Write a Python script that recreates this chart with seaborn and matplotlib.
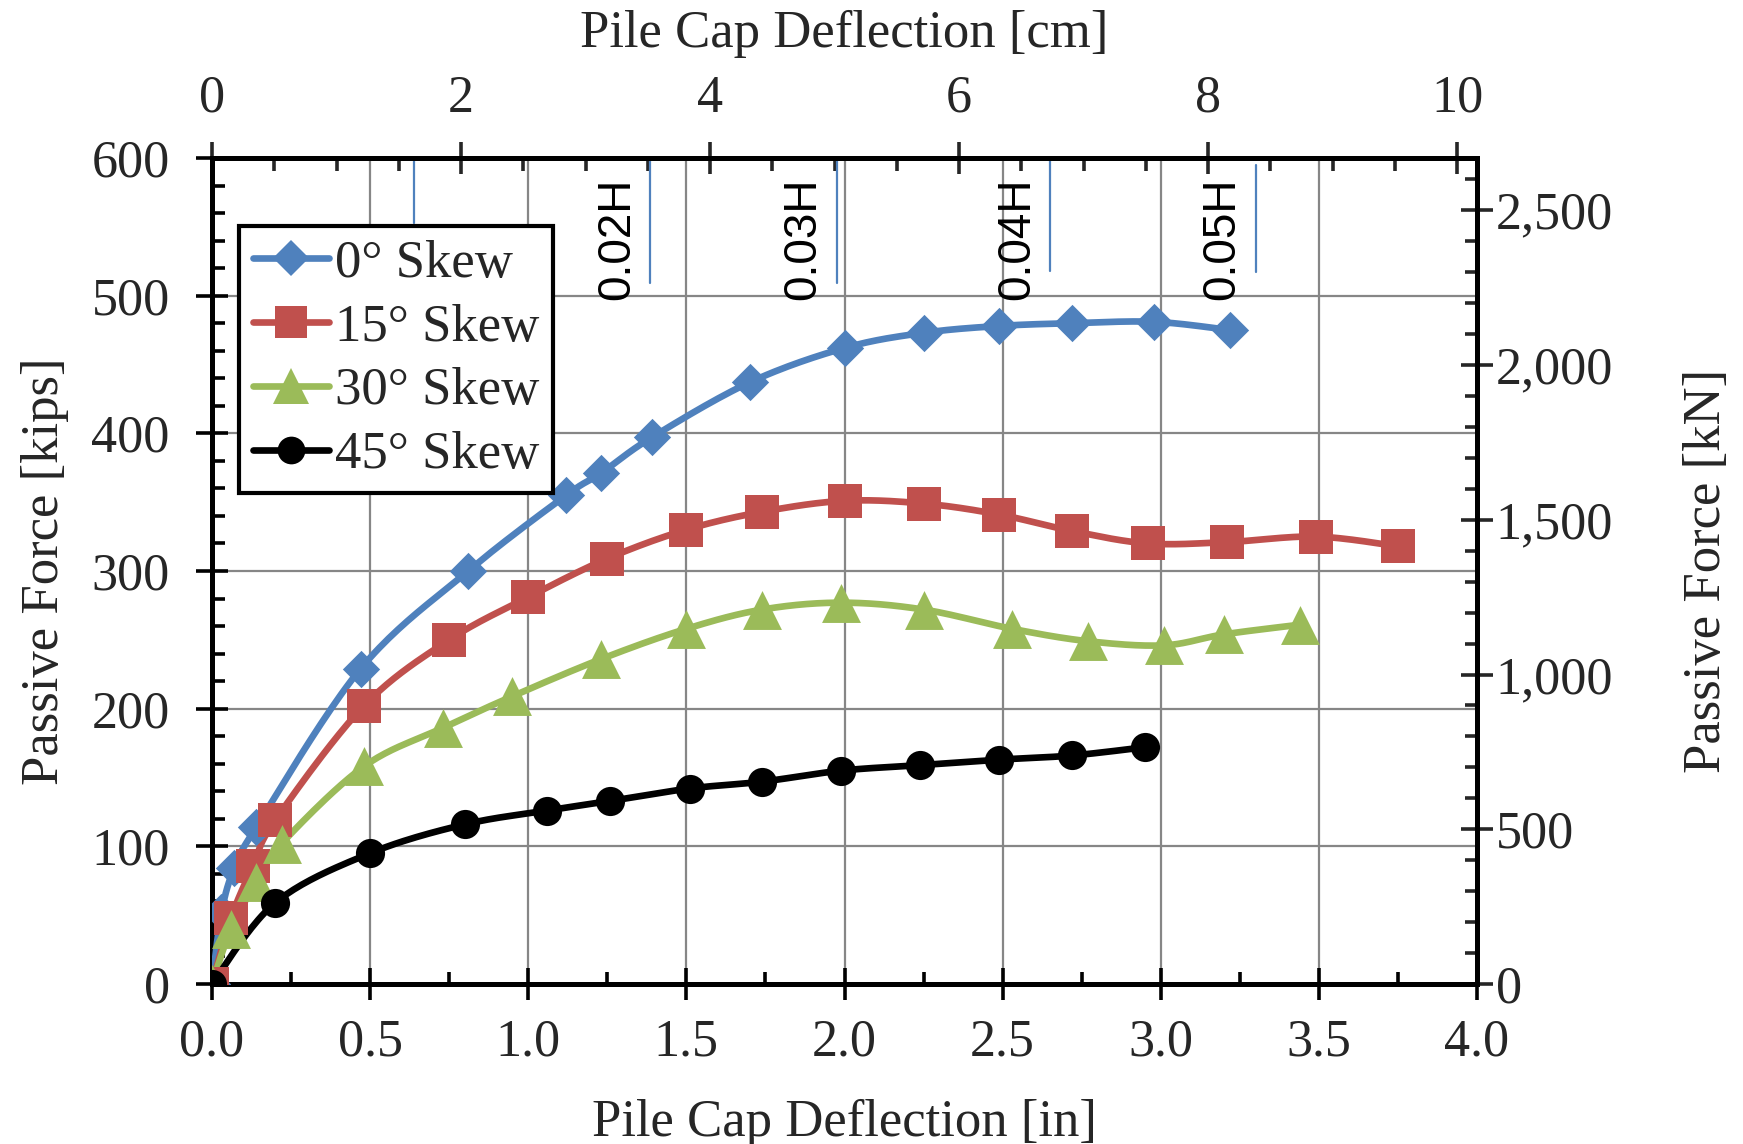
import numpy as np
import pandas as pd
import matplotlib
matplotlib.use("Agg")
import matplotlib.pyplot as plt
from matplotlib.lines import Line2D
from matplotlib.ticker import MultipleLocator, FuncFormatter
import seaborn as sns

# Pile cap load-deflection data: deflection [in], passive force [kips]
skew_labels = ["0° Skew", "15° Skew", "30° Skew", "45° Skew"]

x_skew0 = [0, 0.03, 0.07, 0.14, 0.47, 0.81, 1.12, 1.23, 1.39, 1.70, 2.00, 2.25, 2.49, 2.72, 2.98, 3.22]
y_skew0 = [0, 52, 84, 114, 229, 300, 355, 371, 397, 437, 462, 473, 478, 480, 481, 475]

x_skew15 = [0, 0.06, 0.13, 0.20, 0.48, 0.75, 1.00, 1.25, 1.50, 1.74, 2.00, 2.25, 2.49, 2.72, 2.96, 3.21, 3.49, 3.75]
y_skew15 = [0, 48, 86, 119, 202, 250, 281, 309, 330, 343, 351, 349, 341, 329, 320, 321, 325, 318]

x_skew30 = [0, 0.06, 0.14, 0.22, 0.48, 0.73, 0.95, 1.23, 1.50, 1.74, 1.99, 2.25, 2.53, 2.77, 3.01, 3.20, 3.44]
y_skew30 = [0, 40, 74, 102, 158, 186, 209, 236, 258, 272, 277, 272, 258, 249, 246, 254, 261]

x_skew45 = [0, 0.20, 0.50, 0.80, 1.06, 1.26, 1.51, 1.74, 1.99, 2.24, 2.49, 2.72, 2.95]
y_skew45 = [0, 59, 95, 116, 126, 133, 142, 147, 155, 159, 163, 166, 172]

# Deflection markers as a fraction of wall height H
h_labels = ["0.01H", "0.02H", "0.03H", "0.04H", "0.05H"]
h_defl = [0.64, 1.385, 1.975, 2.65, 3.30]
h_top = [600, 600, 600, 600, 595]
h_bottom = [553, 509, 509, 518, 517]

series = [
    (x_skew0, y_skew0, "#4F81BD", "D", 19),
    (x_skew15, y_skew15, "#C0504D", "s", 24),
    (x_skew30, y_skew30, "#9BBB59", "^", 28),
    (x_skew45, y_skew45, "#000000", "o", 21),
]


def smooth_curve(x, y, n=24):
    """Bezier smoothing through every point (Catmull-Rom style tangents)."""
    p = np.column_stack([x, y]).astype(float)
    pts = np.vstack([p[0], p, p[-1]])
    t = np.linspace(0, 1, n)[:, None]
    segs = []
    for i in range(1, len(pts) - 2):
        p0, p1, p2, p3 = pts[i - 1], pts[i], pts[i + 1], pts[i + 2]
        c1 = p1 + (p2 - p0) / 6.0
        c2 = p2 - (p3 - p1) / 6.0
        segs.append((1 - t) ** 3 * p1 + 3 * (1 - t) ** 2 * t * c1
                    + 3 * (1 - t) * t ** 2 * c2 + t ** 3 * p2)
    return np.vstack(segs)


sns.set_theme(style="white")
plt.rcParams["font.family"] = ["Liberation Serif", "DejaVu Serif"]

fig = plt.figure(figsize=(17.43, 11.44), dpi=100)
ax = fig.add_axes([212 / 1743, 1 - 984 / 1144, 1265 / 1743, 826 / 1144])

LW = 4.8
for (xs, ys, col, mk, ms), lab in zip(series, skew_labels):
    curve = smooth_curve(xs, ys)
    df = pd.DataFrame({"x": curve[:, 0], "y": curve[:, 1]})
    sns.lineplot(data=df, x="x", y="y", sort=False, estimator=None,
                 color=col, linewidth=LW, ax=ax, zorder=3, legend=False)
    pts = pd.DataFrame({"x": xs, "y": ys})
    sns.scatterplot(data=pts, x="x", y="y", marker=mk, s=ms ** 2, color=col,
                    linewidth=0, ax=ax, zorder=4, legend=False)

# H-fraction reference ticks
for lab, xd, yt, yb in zip(h_labels, h_defl, h_top, h_bottom):
    ax.plot([xd, xd], [yb, yt], color="#4F81BD", lw=1.6, zorder=2.5)
    if lab != "0.01H":
        ax.text(xd - 0.035, 497, lab, rotation=90, ha="right", va="bottom",
                fontsize=33, family=["Liberation Sans", "DejaVu Sans"],
                color="black", zorder=2.6)

ax.set_xlim(0, 4.0)
ax.set_ylim(0, 600)
ax.xaxis.set_major_locator(MultipleLocator(0.5))
ax.xaxis.set_minor_locator(MultipleLocator(0.25))
ax.yaxis.set_major_locator(MultipleLocator(100))
ax.yaxis.set_minor_locator(MultipleLocator(20))
ax.xaxis.set_major_formatter(FuncFormatter(lambda v, p: f"{v:.1f}"))
ax.grid(True, which="major", color="#868686", lw=1.6)
ax.set_axisbelow(True)

SPW = 3.6
for s in ax.spines.values():
    s.set_linewidth(SPW)
    s.set_color("black")

FS = 37.5
LFS = 38
ax.tick_params(axis="both", which="major", direction="inout", length=23,
               width=2.6, color="black", labelsize=FS)
ax.tick_params(axis="both", which="minor", direction="in", length=9,
               width=2.6, color="black")
ax.tick_params(axis="x", which="major", pad=13, bottom=True, top=False)
ax.tick_params(axis="x", which="minor", bottom=True, top=False)
ax.tick_params(axis="y", which="major", pad=19, left=True, right=False)
ax.tick_params(axis="y", which="minor", left=True, right=False)

ax.set_xlabel("Pile Cap Deflection [in]", fontsize=LFS, labelpad=24)
ax.set_ylabel("Passive Force [kips]", fontsize=LFS, labelpad=16)

# Metric secondary axes
secx = ax.secondary_xaxis("top", functions=(lambda v: v * 2.54, lambda v: v / 2.54))
secx.xaxis.set_major_locator(MultipleLocator(2))
secx.xaxis.set_minor_locator(MultipleLocator(0.5))
secx.tick_params(axis="x", which="major", direction="inout", length=23,
                 width=2.6, labelsize=FS, pad=14)
secx.tick_params(axis="x", which="minor", direction="in", length=9, width=2.6)
secx.set_xlabel("Pile Cap Deflection [cm]", fontsize=LFS, labelpad=20)
secx.spines["top"].set_linewidth(SPW)

KN = 4.44822
secy = ax.secondary_yaxis("right", functions=(lambda v: v * KN, lambda v: v / KN))
secy.yaxis.set_major_locator(MultipleLocator(500))
secy.yaxis.set_minor_locator(MultipleLocator(100))
secy.yaxis.set_major_formatter(FuncFormatter(lambda v, p: f"{v:,.0f}"))
secy.tick_params(axis="y", which="major", direction="inout", length=23,
                 width=2.6, labelsize=FS, pad=2)
secy.tick_params(axis="y", which="minor", direction="in", length=9, width=2.6)
secy.set_ylabel("Passive Force [kN]", fontsize=LFS, labelpad=50)
secy.spines["right"].set_linewidth(SPW)

handles = [Line2D([0], [0], color=col, lw=LW, marker=mk,
                  markersize=ms * 0.95, markeredgewidth=0)
           for (_, _, col, mk, ms) in series]
leg = ax.legend(handles, skew_labels, loc="upper left",
                bbox_to_anchor=((239 - 212) / 1265, (984 - 226) / 826),
                borderaxespad=0, fontsize=LFS, frameon=True, fancybox=False,
                framealpha=1, edgecolor="black", handlelength=1.45,
                handletextpad=0.1, labelspacing=0.3, borderpad=0.26)
leg.get_frame().set_linewidth(3)
leg.set_zorder(10)

fig.savefig("out.png", dpi=100, facecolor="white")
